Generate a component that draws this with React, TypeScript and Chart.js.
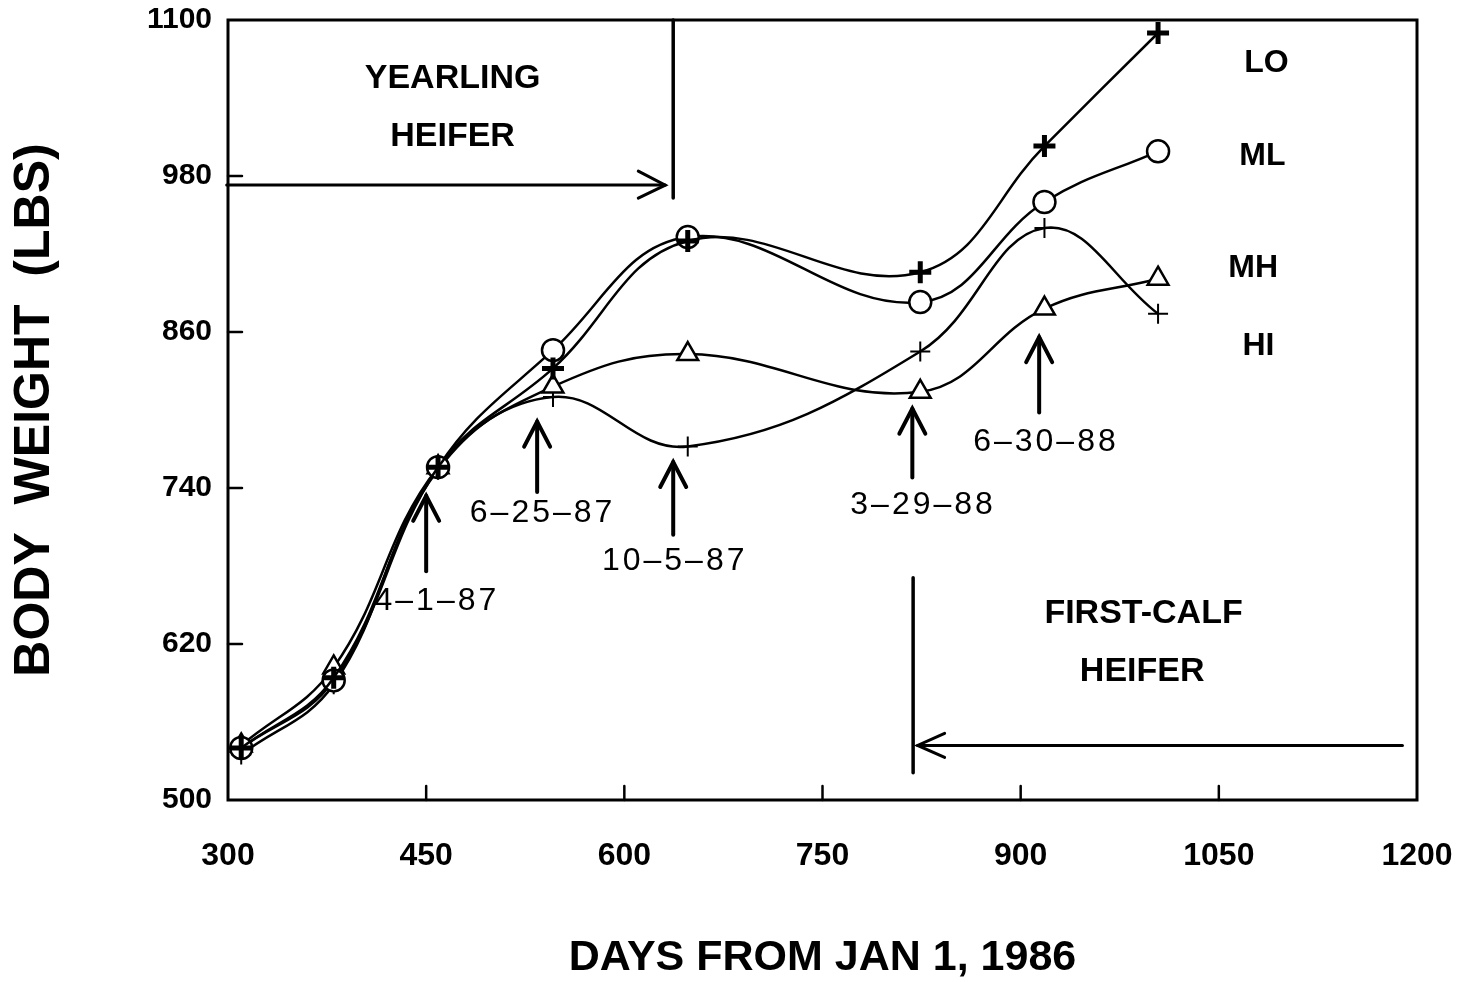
import React, { useEffect, useRef } from 'react';
import { Chart, registerables } from 'chart.js';

Chart.register(...registerables);

// ---- data ----
const days = [310, 380, 459, 546, 648, 824, 918, 1004];
const loWeights = [540, 594, 756, 832, 930, 906, 1003, 1090];
const mlWeights = [540, 592, 756, 846, 933, 883, 960, 999];
const mhWeights = [542, 602, 756, 818, 843, 814, 878, 901];
const hiWeights = [535, 589, 754, 810, 772, 845, 940, 874];

const xTicks = [300, 450, 600, 750, 900, 1050, 1200];
const yTicks = [500, 620, 740, 860, 980, 1100];

const groupNames = ['LO', 'ML', 'MH', 'HI'];
const groupNameX = [1086, 1083, 1076, 1080];
const groupNameY = [1067, 995, 909, 849];

const dateLabels = ['4–1–87', '6–25–87', '10–5–87', '3–29–88', '6–30–88'];
const dateArrowX = [450, 534, 637, 818, 914];
const dateArrowTipY = [734, 791, 760, 801, 856];
const dateArrowBaseY = [676, 737, 704, 748, 798];
const dateLabelX = [457, 537, 637, 825, 918];
const dateLabelY = [653, 721, 684, 727, 775];

const phaseLines1 = ['YEARLING', 'HEIFER'];
const phaseLines1X = [470, 470];
const phaseLines1Y = [1055, 1010];
const phaseLines2 = ['FIRST-CALF', 'HEIFER'];
const phaseLines2X = [993, 992];
const phaseLines2Y = [643, 599];

// yearling divider & arrow (data coords)
const yearlingDivX = 637;
const yearlingDivY = [1100, 963];
const yearlingArrowX = [299, 631];
const yearlingArrowY = 973;
// first-calf divider & arrow
const calfDivX = 818.6;
const calfDivY = [671, 521];
const calfArrowX = [1189, 822];
const calfArrowY = 542;

const annotationPlugin = {
  id: 'annotations',
  afterDraw(chart: any) {
    const { ctx, chartArea: a } = chart;
    const xs = chart.scales.x;
    const ys = chart.scales.y;
    const X = (v: number) => xs.getPixelForValue(v);
    const Y = (v: number) => ys.getPixelForValue(v);
    const line = (x1: number, y1: number, x2: number, y2: number) => {
      ctx.beginPath();
      ctx.moveTo(x1, y1);
      ctx.lineTo(x2, y2);
      ctx.stroke();
    };
    ctx.save();
    ctx.strokeStyle = '#000';
    ctx.fillStyle = '#000';
    ctx.lineCap = 'round';

    // frame
    ctx.lineWidth = 3;
    ctx.strokeRect(a.left, a.top, a.right - a.left, a.bottom - a.top);

    // inward ticks
    ctx.lineWidth = 2.5;
    xTicks.slice(1, -1).forEach((v) => line(X(v), a.bottom, X(v), a.bottom - 14));
    yTicks.slice(1, -1).forEach((v) => line(a.left, Y(v), a.left + 14, Y(v)));

    // up arrows with dates
    ctx.lineWidth = 4;
    dateArrowX.forEach((v, i) => {
      const px = X(v);
      const tip = Y(dateArrowTipY[i]);
      const base = Y(dateArrowBaseY[i]);
      line(px, base, px, tip);
      ctx.beginPath();
      ctx.moveTo(px - 13, tip + 25);
      ctx.lineTo(px, tip);
      ctx.lineTo(px + 13, tip + 25);
      ctx.stroke();
    });
    ctx.font = '32px "Liberation Sans", Arial, sans-serif';
    (ctx as any).letterSpacing = '3px';
    ctx.textAlign = 'center';
    ctx.textBaseline = 'middle';
    dateLabels.forEach((t, i) => ctx.fillText(t, X(dateLabelX[i]) + 1.5, Y(dateLabelY[i])));
    (ctx as any).letterSpacing = '0px';

    // yearling divider + arrow
    ctx.lineWidth = 3.5;
    line(X(yearlingDivX), Y(yearlingDivY[0]), X(yearlingDivX), Y(yearlingDivY[1]));
    ctx.lineWidth = 3;
    const ay = Y(yearlingArrowY);
    const ax2 = X(yearlingArrowX[1]);
    line(X(yearlingArrowX[0]), ay, ax2, ay);
    ctx.beginPath();
    ctx.moveTo(ax2 - 27, ay - 14);
    ctx.lineTo(ax2, ay);
    ctx.lineTo(ax2 - 27, ay + 13);
    ctx.stroke();

    // first-calf divider + arrow
    ctx.lineWidth = 3.5;
    line(X(calfDivX), Y(calfDivY[0]), X(calfDivX), Y(calfDivY[1]));
    ctx.lineWidth = 3;
    const cy = Y(calfArrowY);
    const cx2 = X(calfArrowX[1]);
    line(X(calfArrowX[0]), cy, cx2, cy);
    ctx.beginPath();
    ctx.moveTo(cx2 + 27, cy - 12);
    ctx.lineTo(cx2, cy);
    ctx.lineTo(cx2 + 27, cy + 12);
    ctx.stroke();

    // phase texts
    ctx.font = 'bold 34px "Liberation Sans", Arial, sans-serif';
    phaseLines1.forEach((t, i) => ctx.fillText(t, X(phaseLines1X[i]), Y(phaseLines1Y[i])));
    phaseLines2.forEach((t, i) => ctx.fillText(t, X(phaseLines2X[i]), Y(phaseLines2Y[i])));

    // group names
    ctx.font = 'bold 32px "Liberation Sans", Arial, sans-serif';
    groupNames.forEach((t, i) => ctx.fillText(t, X(groupNameX[i]), Y(groupNameY[i])));

    ctx.restore();
  },
};

const noOverflow = (s: any) => {
  s.paddingLeft = 0;
  s.paddingRight = 0;
  s.paddingTop = 0;
  s.paddingBottom = 0;
};

export default function App() {
  const canvasRef = useRef<HTMLCanvasElement | null>(null);

  useEffect(() => {
    if (!canvasRef.current) return;
    const mk = (label: string, data: number[], style: string, radius: number, bw: number, fill: string) => ({
      label,
      data: days.map((d, i) => ({ x: d, y: data[i] })),
      borderColor: '#000',
      borderWidth: 2.5,
      backgroundColor: fill,
      pointStyle: style,
      pointRadius: radius,
      pointBorderWidth: bw,
      pointBorderColor: '#000',
      pointBackgroundColor: fill,
      tension: 0.4,
      fill: false,
    });
    const chart = new Chart(canvasRef.current, {
      type: 'line',
      data: {
        datasets: [
          mk(groupNames[0], loWeights, 'cross', 11, 5, '#000'),
          mk(groupNames[1], mlWeights, 'circle', 11, 2.5, '#fff'),
          mk(groupNames[2], mhWeights, 'triangle', 12, 2.5, '#fff'),
          mk(groupNames[3], hiWeights, 'cross', 10, 2, '#000'),
        ] as any,
      },
      options: {
        animation: false,
        responsive: true,
        maintainAspectRatio: false,
        layout: { padding: { top: 20, right: 41, left: 0, bottom: 0 } },
        plugins: { legend: { display: false }, tooltip: { enabled: false } },
        scales: {
          x: {
            type: 'linear',
            min: 300,
            max: 1200,
            afterFit: (s: any) => { s.height = 182; noOverflow(s); },
            afterBuildTicks: (s: any) => { s.ticks = xTicks.map((v) => ({ value: v })); },
            grid: { display: false, drawTicks: false },
            border: { display: false },
            ticks: {
              color: '#000',
              padding: 37,
              callback: (v: any) => String(v),
              font: { family: '"Liberation Sans", Arial, sans-serif', size: 32, weight: 'bold' },
            },
            title: {
              display: true,
              text: 'DAYS FROM JAN 1, 1986',
              color: '#000',
              padding: { top: 0, bottom: 2 },
              font: { family: '"Liberation Sans", Arial, sans-serif', size: 43, weight: 'bold', lineHeight: 1 },
            },
          },
          y: {
            type: 'linear',
            min: 500,
            max: 1100,
            afterFit: (s: any) => { s.width = 228; noOverflow(s); },
            afterBuildTicks: (s: any) => { s.ticks = yTicks.map((v) => ({ value: v })); },
            grid: { display: false, drawTicks: false },
            border: { display: false },
            ticks: {
              color: '#000',
              padding: 16,
              callback: (v: any) => String(v),
              font: { family: '"Liberation Sans", Arial, sans-serif', size: 30, weight: 'bold' },
            },
            title: {
              display: true,
              text: 'BODY  WEIGHT  (LBS)',
              color: '#000',
              padding: { top: 10, bottom: 0 },
              font: { family: '"Liberation Sans", Arial, sans-serif', size: 50, weight: 'bold', lineHeight: 1 },
            },
          },
        },
      } as any,
      plugins: [annotationPlugin],
    });
    return () => chart.destroy();
  }, []);

  return (
    <div style={{ position: 'fixed', left: 0, top: 0, width: 1458, height: 982, background: '#fff' }}>
      <canvas ref={canvasRef} />
    </div>
  );
}
